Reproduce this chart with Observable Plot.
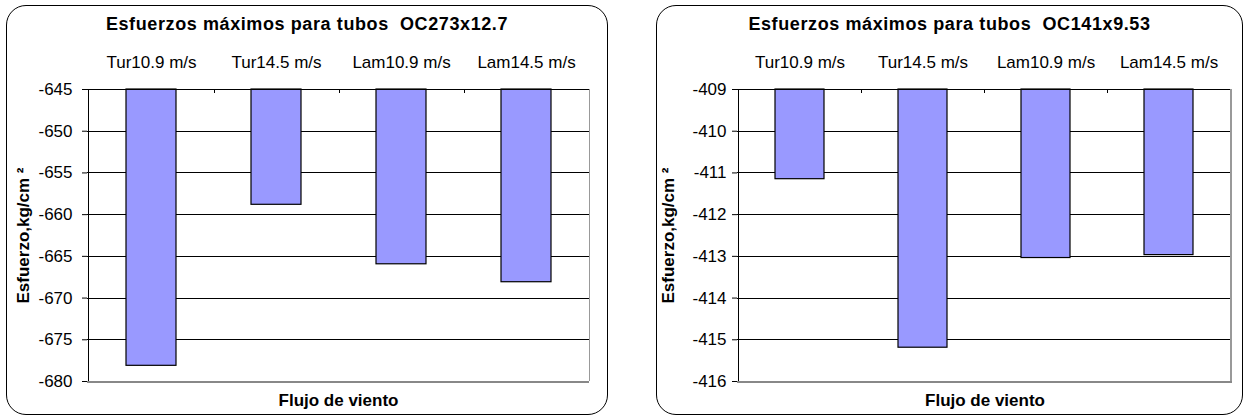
<!DOCTYPE html>
<html>
<head>
<meta charset="utf-8">
<script src="https://cdn.jsdelivr.net/npm/d3@7"></script>
<script src="https://cdn.jsdelivr.net/npm/@observablehq/plot@0.6"></script>
<style>
  html, body { margin: 0; padding: 0; background: #fff; }
  #root { position: relative; width: 1245px; height: 418px; overflow: hidden; font-family: "Liberation Sans", Arial, sans-serif; }
  .panel { position: absolute; border: 1.3px solid #000; border-radius: 20px; box-sizing: border-box; pointer-events: none; }
  .title { position: absolute; left: 0; right: 0; text-align: center; font-weight: bold; font-size: 18px; letter-spacing: 0.6px; top: 8px; line-height: 20px; color: #000; white-space: pre; }
  .chart { position: absolute; top: 0; }
  .chart line { shape-rendering: crispEdges; }
</style>
</head>
<body>
<div id="root"></div>
<script>
// ---- data ----
const categories = ["Tur10.9 m/s", "Tur14.5 m/s", "Lam10.9 m/s", "Lam14.5 m/s"];
const valuesOC273 = [-678.12, -658.82, -665.95, -668.1];
const valuesOC141 = [-411.15, -415.19, -413.04, -412.97];
const ticksOC273 = [-645, -650, -655, -660, -665, -670, -675, -680];
const ticksOC141 = [-409, -410, -411, -412, -413, -414, -415, -416];
const titleOC273 = "Esfuerzos máximos para tubos  OC273x12.7";
const titleOC141 = "Esfuerzos máximos para tubos  OC141x9.53";
const yLabel = "Esfuerzo,kg/cm ²";
const xLabel = "Flujo de viento";

const FONT = "Liberation Sans, Arial, sans-serif";
const root = document.getElementById("root");

function makePanel(cfg) {
  const {values, ticks, title, svgLeft, svgWidth, mLeft, mRight, tickPad, yLabelDx, panelLeft, panelWidth} = cfg;
  const top = d3.max(ticks), bottom = d3.min(ticks);
  const data = categories.map((c, i) => ({cat: c, v: values[i]}));
  const step = (svgWidth - mLeft - mRight) / categories.length;
  const plotH = 418 - 89 - 37;

  const svg = Plot.plot({
    width: svgWidth,
    height: 418,
    marginLeft: mLeft,
    marginRight: mRight,
    marginTop: 89,
    marginBottom: 37,
    style: {fontFamily: FONT, fontSize: "17px", background: "transparent", overflow: "visible", color: "#000"},
    x: {domain: categories, paddingInner: 0.6, paddingOuter: 0.3, axis: null},
    y: {domain: [bottom, top], axis: null},
    marks: [
      Plot.ruleY(ticks.filter(t => t !== top && t !== bottom), {stroke: "#000", strokeWidth: 1}),
      Plot.barY(data, {x: "cat", y1: () => top, y2: "v", fill: "#9999ff", stroke: "#000", strokeWidth: 1.2}),
      Plot.ruleY([top], {stroke: "#000", strokeWidth: 1}),
      Plot.ruleX([categories[categories.length - 1]], {dx: step / 2, stroke: "#999", strokeWidth: 1.5}),
      Plot.ruleX(categories.slice(0, -1), {dx: step / 2, insetBottom: plotH - 4, stroke: "#000"}),
      Plot.ruleY([bottom], {stroke: "#888", strokeWidth: 2}),
      Plot.ruleX([categories[0]], {dx: -step / 2, stroke: "#000", strokeWidth: 1}),
      Plot.axisY({ticks, tickSize: 5, tickPadding: tickPad, tickFormat: d => String(d), label: null, fontSize: 17, stroke: "#000"}),
      Plot.axisX({anchor: "top", tickSize: 0, tickPadding: 22, label: null, fontSize: 17}),
      Plot.text([yLabel], {frameAnchor: "left", dx: yLabelDx, rotate: -90, textAnchor: "middle", fontWeight: "bold", fontSize: 17, fontFamily: FONT}),
      Plot.text([xLabel], {frameAnchor: "bottom", dy: 24, lineAnchor: "bottom", fontWeight: "bold", fontSize: 17, fontFamily: FONT})
    ]
  });
  svg.classList.add("chart");
  svg.style.left = svgLeft + "px";
  root.appendChild(svg);

  const panel = document.createElement("div");
  panel.className = "panel";
  panel.style.left = panelLeft + "px";
  panel.style.top = "5px";
  panel.style.width = panelWidth + "px";
  panel.style.height = "410px";
  const t = document.createElement("div");
  t.className = "title";
  t.textContent = title;
  panel.appendChild(t);
  root.appendChild(panel);
}

makePanel({values: valuesOC273, ticks: ticksOC273, title: titleOC273, svgLeft: 0, svgWidth: 620, mLeft: 87, mRight: 31, tickPad: 10, yLabelDx: -64, panelLeft: 6, panelWidth: 602});
makePanel({values: valuesOC141, ticks: ticksOC141, title: titleOC141, svgLeft: 620, svgWidth: 625, mLeft: 117, mRight: 13, tickPad: 6, yLabelDx: -69, panelLeft: 656, panelWidth: 587});
</script>
</body>
</html>
